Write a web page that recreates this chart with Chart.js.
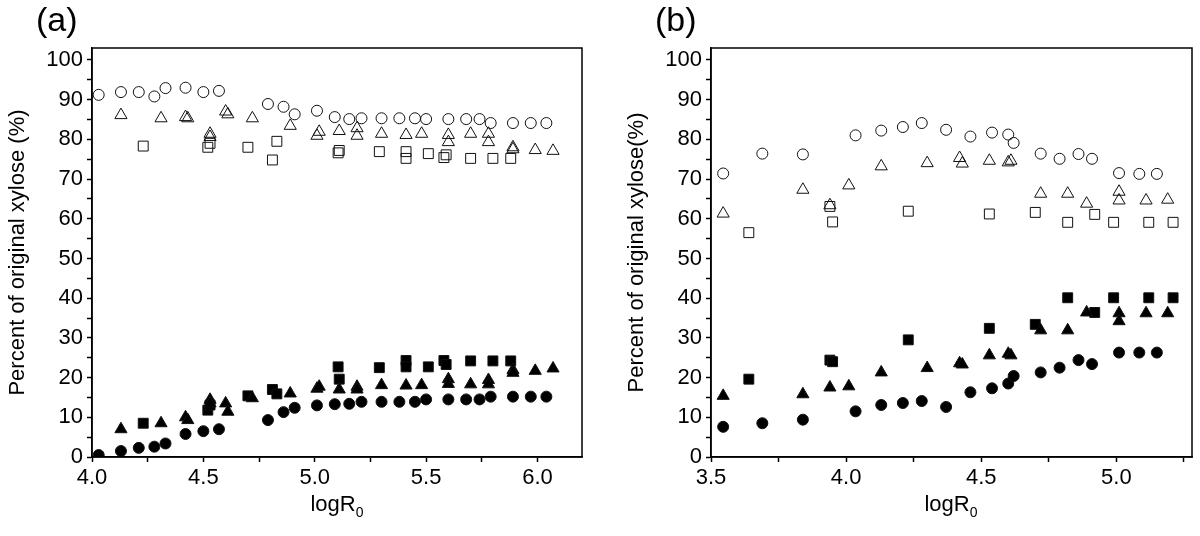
<!DOCTYPE html>
<html>
<head>
    <title>Xylose recovery vs logR0</title>
    <script src="https://cdn.jsdelivr.net/npm/chart.js"></script>
    <style>
        body { margin: 0; background: #fff; }
        #wrap { position: relative; width: 1200px; height: 536px; font-family: "Liberation Sans", Arial, sans-serif; color: #000; }
        canvas { position: absolute; top: 0; }
        .tag { position: absolute; top: 2px; font-size: 34px; line-height: 34px; }
        .xtitle { position: absolute; top: 493px; font-size: 22px; line-height: 22px; transform: translateX(-50%); white-space: nowrap; }
        .xtitle sub { font-size: 14px; vertical-align: -6px; line-height: 0; }
    </style>
</head>
<body>
    <div id="wrap">
        <canvas id="chart_a" width="600" height="536" style="left:0"></canvas>
        <canvas id="chart_b" width="600" height="536" style="left:600px"></canvas>
        <div class="tag" style="left:36px">(a)</div>
        <div class="tag" style="left:655px">(b)</div>
        <div class="xtitle" style="left:337px">logR<sub>0</sub></div>
        <div class="xtitle" style="left:951px">logR<sub>0</sub></div>
    </div>
    <script>
        // panel (a)
        const a_circle_x = [4.03, 4.13, 4.21, 4.28, 4.33, 4.42, 4.50, 4.57, 4.79, 4.86, 4.91, 5.01, 5.09, 5.155, 5.21, 5.30, 5.38, 5.45, 5.50, 5.60, 5.68, 5.74, 5.79, 5.89, 5.97, 6.04];
        const a_circle_open = [91.2, 91.9, 91.9, 90.8, 92.9, 93.0, 91.9, 92.2, 88.9, 88.2, 86.3, 87.2, 85.6, 85.1, 85.3, 85.3, 85.3, 85.3, 85.1, 85.1, 85.1, 85.1, 84.1, 84.1, 84.1, 84.1];
        const a_circle_filled = [0.5, 1.5, 2.3, 2.6, 3.4, 5.8, 6.5, 7.0, 9.3, 11.3, 12.4, 13.0, 13.3, 13.4, 13.9, 13.9, 13.9, 13.9, 14.5, 14.5, 14.5, 14.5, 15.2, 15.2, 15.2, 15.2];

        const a_triangle_x = [4.13, 4.31, 4.42, 4.43, 4.53, 4.53, 4.60, 4.61, 4.72, 4.89, 5.01, 5.02, 5.11, 5.19, 5.19, 5.30, 5.41, 5.48, 5.60, 5.60, 5.70, 5.78, 5.78, 5.89, 5.89, 5.99, 6.07];
        const a_triangle_open = [86.1, 85.3, 85.6, 85.3, 81.4, 80.6, 87.0, 86.3, 85.3, 83.4, 80.9, 81.9, 82.1, 82.8, 80.9, 81.4, 81.1, 81.4, 81.1, 79.3, 81.4, 81.4, 79.3, 78.0, 77.5, 77.3, 77.1];
        const a_triangle_filled = [7.0, 8.5, 10.0, 9.3, 14.4, 13.5, 13.5, 11.4, 14.8, 16.0, 17.2, 17.7, 17.0, 17.7, 17.0, 18.1, 18.0, 18.1, 19.6, 18.4, 18.3, 19.4, 18.3, 21.9, 21.2, 21.7, 22.3];

        const a_square_x = [4.23, 4.52, 4.53, 4.70, 4.81, 4.83, 5.105, 5.11, 5.29, 5.41, 5.41, 5.51, 5.58, 5.59, 5.70, 5.80, 5.88];
        const a_square_open = [78.3, 78.0, 79.0, 78.0, 74.8, 79.5, 76.6, 77.2, 76.9, 76.9, 75.2, 76.4, 75.4, 76.1, 75.2, 75.2, 75.2];
        const a_square_filled = [8.5, 11.8, 13.1, 15.4, 17.0, 15.9, 22.7, 19.6, 22.5, 24.3, 22.7, 22.7, 24.3, 23.3, 24.2, 24.2, 24.2];

        // panel (b)
        const b_circle_x = [3.545, 3.69, 3.84, 4.035, 4.13, 4.21, 4.28, 4.37, 4.46, 4.54, 4.60, 4.62, 4.72, 4.79, 4.86, 4.91, 5.01, 5.085, 5.15];
        const b_circle_open = [71.4, 76.4, 76.2, 81.0, 82.2, 83.1, 84.1, 82.4, 80.7, 81.7, 81.2, 79.1, 76.4, 75.1, 76.3, 75.1, 71.5, 71.3, 71.3];
        const b_circle_filled = [7.6, 8.5, 9.4, 11.5, 13.1, 13.6, 14.1, 12.6, 16.3, 17.3, 18.5, 20.4, 21.3, 22.5, 24.4, 23.4, 26.3, 26.3, 26.3];

        const b_triangle_x = [3.545, 3.84, 3.94, 4.01, 4.13, 4.30, 4.42, 4.43, 4.53, 4.60, 4.61, 4.72, 4.82, 4.89, 5.01, 5.01, 5.11, 5.19];
        const b_triangle_open = [61.3, 67.3, 63.4, 68.4, 73.2, 74.0, 75.3, 73.9, 74.6, 74.2, 74.6, 66.3, 66.3, 63.8, 66.8, 64.6, 64.6, 64.8];
        const b_triangle_filled = [15.4, 15.8, 17.5, 17.8, 21.3, 22.4, 23.6, 23.3, 25.6, 26.0, 25.6, 31.9, 31.9, 36.4, 36.2, 34.2, 36.2, 36.2];

        const b_square_x = [3.64, 3.94, 3.95, 4.23, 4.53, 4.70, 4.82, 4.92, 4.99, 5.12, 5.21];
        const b_square_open = [56.5, 63.1, 59.2, 61.9, 61.2, 61.6, 59.1, 61.1, 59.1, 59.1, 59.1];
        const b_square_filled = [19.6, 24.4, 24.0, 29.5, 32.4, 33.4, 40.1, 36.4, 40.1, 40.1, 40.1];

        const y_ticks_major = [0, 10, 20, 30, 40, 50, 60, 70, 80, 90, 100];

        const FONT = "'Liberation Sans', Arial, sans-serif";

        function toPoints(xs, ys) {
            return xs.map((x, i) => ({ x: x, y: ys[i] }));
        }

        function series(xs, ys, style, filled) {
            const radius = style === 'circle' ? 5.5 : 7;
            return {
                data: toPoints(xs, ys),
                pointStyle: style,
                pointRadius: radius,
                pointHoverRadius: radius,
                borderWidth: 1,
                borderColor: '#111',
                backgroundColor: filled ? '#000' : 'rgba(0,0,0,0)',
                showLine: false
            };
        }

        // draw the closed frame round the plot area
        const framePlugin = {
            id: 'frame',
            afterDraw(chart) {
                const a = chart.chartArea;
                const ctx = chart.ctx;
                ctx.save();
                ctx.strokeStyle = '#000';
                ctx.lineWidth = 1.5;
                ctx.strokeRect(a.left, a.top, a.right - a.left, a.bottom - a.top);
                ctx.restore();
            }
        };

        function addPanel(_element_id, _datasets, _x_min, _x_max, _y_width, _pad_right, _y_title, _title_pad) {
            const ctx = document.getElementById(_element_id);
            return new Chart(ctx, {
                type: 'scatter',
                data: { datasets: _datasets },
                plugins: [framePlugin],
                options: {
                    responsive: false,
                    animation: false,
                    layout: { padding: { top: 48, right: _pad_right, left: 0, bottom: 0 } },
                    plugins: { legend: { display: false }, tooltip: { enabled: false } },
                    scales: {
                        x: {
                            type: 'linear',
                            min: _x_min,
                            max: _x_max,
                            afterFit: (s) => { s.height = 79; },
                            grid: { drawOnChartArea: false, drawTicks: true, tickLength: 5, color: '#000', tickWidth: 1.5 },
                            border: { display: true, color: '#000', width: 1.5 },
                            ticks: {
                                stepSize: 0.25,
                                includeBounds: false,
                                autoSkip: false,
                                maxRotation: 0,
                                padding: 3,
                                color: '#000',
                                font: { family: FONT, size: 22 },
                                callback: (v) => (Math.abs(v * 2 - Math.round(v * 2)) < 1e-6 ? v.toFixed(1) : '')
                            }
                        },
                        y: {
                            min: 0,
                            max: 103,
                            afterFit: (s) => { s.width = _y_width; },
                            grid: { drawOnChartArea: false, drawTicks: true, tickLength: 5, color: '#000', tickWidth: 1.5 },
                            border: { display: true, color: '#000', width: 1.5 },
                            title: {
                                display: true,
                                text: _y_title,
                                color: '#000',
                                font: { family: FONT, size: 22 },
                                padding: { top: _title_pad, bottom: 0 }
                            },
                            ticks: {
                                stepSize: 5,
                                includeBounds: false,
                                autoSkip: false,
                                padding: 4,
                                color: '#000',
                                font: { family: FONT, size: 22 },
                                callback: (v) => (y_ticks_major.includes(v) ? String(v) : '')
                            }
                        }
                    }
                }
            });
        }

        const chart_a = addPanel('chart_a', [
            series(a_circle_x, a_circle_open, 'circle', false),
            series(a_triangle_x, a_triangle_open, 'triangle', false),
            series(a_square_x, a_square_open, 'rect', false),
            series(a_circle_x, a_circle_filled, 'circle', true),
            series(a_triangle_x, a_triangle_filled, 'triangle', true),
            series(a_square_x, a_square_filled, 'rect', true)
        ], 4.0, 6.2, 92, 18, 'Percent of original xylose (%)', 5);

        const chart_b = addPanel('chart_b', [
            series(b_circle_x, b_circle_open, 'circle', false),
            series(b_triangle_x, b_triangle_open, 'triangle', false),
            series(b_square_x, b_square_open, 'rect', false),
            series(b_circle_x, b_circle_filled, 'circle', true),
            series(b_triangle_x, b_triangle_filled, 'triangle', true),
            series(b_square_x, b_square_filled, 'rect', true)
        ], 3.5, 5.28, 111, 8, 'Percent of original xylose(%)', 24);
    </script>
</body>
</html>
